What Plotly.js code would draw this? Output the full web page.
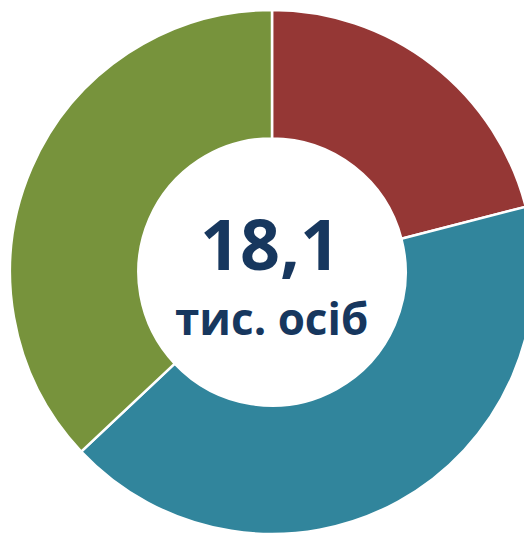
<!DOCTYPE html>
<html>
<head>
<meta charset="utf-8">
<script src="https://cdn.plot.ly/plotly-3.0.1.min.js"></script>
<style>
  html, body { margin: 0; padding: 0; overflow: hidden; background: #fff; }
  #chart { width: 544px; height: 544px; }
</style>
</head>
<body>
<div id="chart"></div>
<script>
// === Datos ===
const categorias = ["A", "B", "C"];
const valores = [3.8, 7.6, 6.7];
const colores = ["#953735", "#31859C", "#77933C"];
const total = "18,1";
const unidad = "тис. осіб";

// convierte px de la ventana a coordenadas "paper" (área 524x524 con margen 10)
const py = p => 1 - (p - 10) / 524;
const px = p => (p - 10) / 524;

const trace = {
  type: "pie",
  labels: categorias,
  values: valores,
  sort: false,
  direction: "clockwise",
  rotation: 0,
  hole: 0.51,
  textinfo: "none",
  hoverinfo: "none",
  marker: { colors: colores, line: { color: "#ffffff", width: 2.5 } }
};

const layout = {
  width: 544,
  height: 544,
  margin: { l: 10, r: 10, t: 10, b: 10 },
  showlegend: false,
  paper_bgcolor: "#ffffff",
  annotations: [
    {
      text: total, xref: "paper", yref: "paper",
      x: px(270), y: py(243), xanchor: "center", yanchor: "middle",
      showarrow: false,
      font: { family: "Open Sans", size: 70, weight: "bold", color: "#17375E" }
    },
    {
      text: unidad, xref: "paper", yref: "paper",
      x: px(271), y: py(318), xanchor: "center", yanchor: "middle",
      showarrow: false,
      font: { family: "Open Sans", size: 44, weight: "bold", color: "#17375E" }
    }
  ]
};

Plotly.newPlot("chart", [trace], layout, { displayModeBar: false, staticPlot: true });
</script>
</body>
</html>
